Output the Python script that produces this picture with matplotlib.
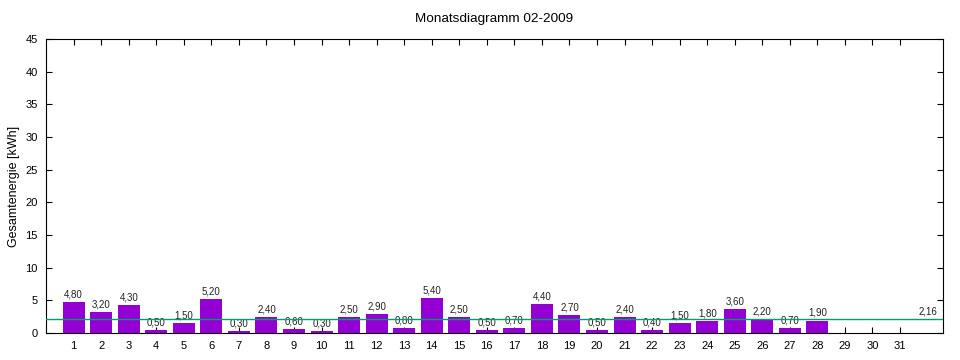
import matplotlib
matplotlib.use("Agg")
import matplotlib.pyplot as plt

plt.rcParams['font.family'] = ['Liberation Sans', 'DejaVu Sans']

days = list(range(1, 29))
energy = [4.8, 3.2, 4.3, 0.5, 1.5, 5.2, 0.3, 2.4, 0.6, 0.3, 2.5, 2.9, 0.8, 5.4,
          2.5, 0.5, 0.7, 4.4, 2.7, 0.5, 2.4, 0.4, 1.5, 1.8, 3.6, 2.2, 0.7, 1.9]
average = 2.16
xticks = list(range(1, 32))

fig = plt.figure(figsize=(9.6, 3.6), dpi=100)
ax = fig.add_axes([0.048, 0.075, 0.934, 0.817])

# bars above the tick marks, average line above the bars
ax.bar(days, energy, width=0.8, color='#9400d3', zorder=2)
for d, v in zip(days, energy):
    ax.text(d, v + 0.4, f"{v:.2f}".replace('.', ','), ha='center', va='bottom',
            fontsize=7, color='#222222')

ax.axhline(average, color='#009e73', lw=1, zorder=3)
ax.text(32.35, average + 0.4, f"{average:.2f}".replace('.', ','), ha='right',
        va='bottom', fontsize=7, color='#222222')

ax.set_xlim(0, 32.55)
ax.set_ylim(0, 45)
ax.set_xticks(xticks)
ax.set_yticks(range(0, 46, 5))
ax.tick_params(direction='in', top=True, right=True, labelsize=8, length=4, pad=6)
ax.set_ylabel('Gesamtenergie [kWh]', fontsize=9)
ax.set_title('Monatsdiagramm 02-2009', fontsize=9.7, pad=12)

fig.savefig('out.png', dpi=100)
